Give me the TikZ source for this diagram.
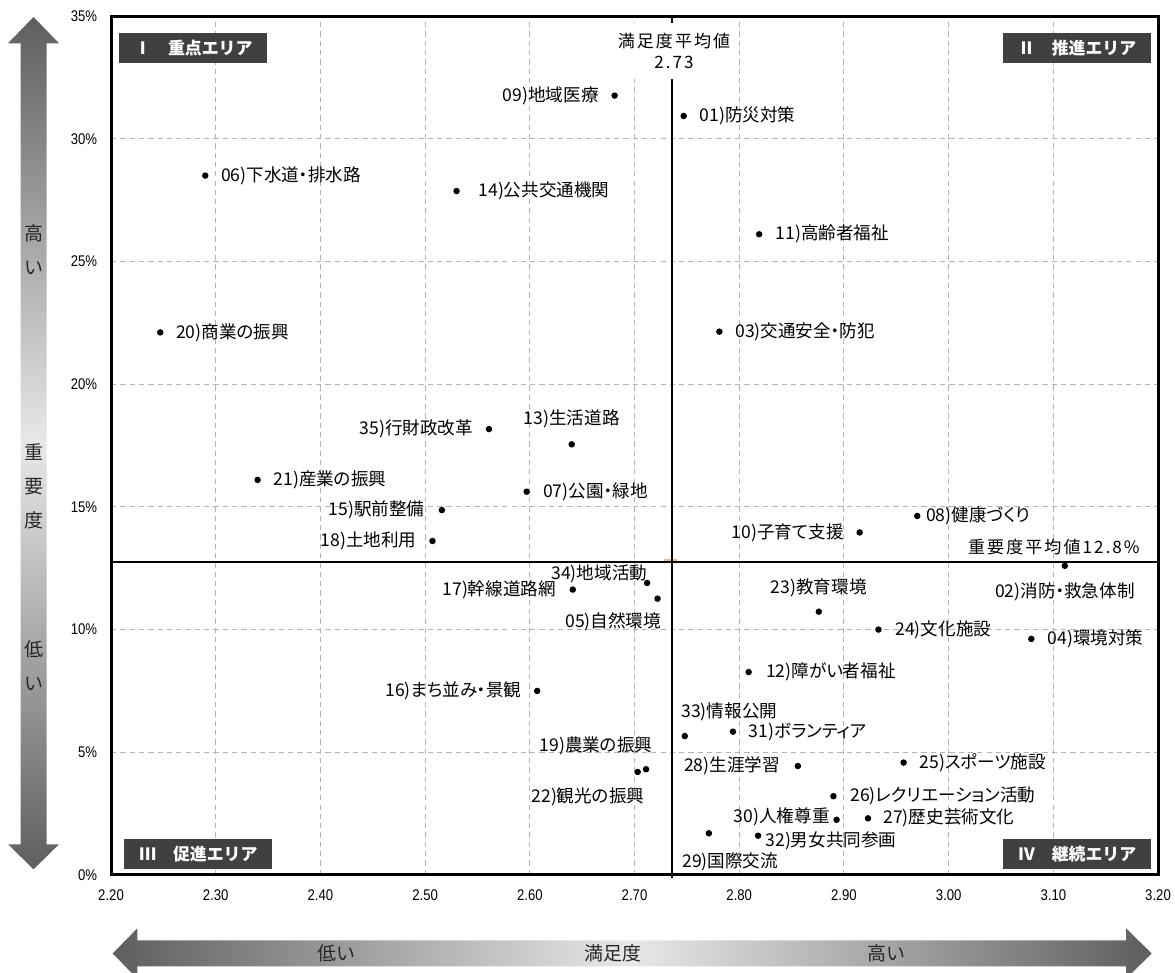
\documentclass[tikz,border=0pt]{standalone}
\usepackage{fontspec}
\setmainfont{Noto Sans CJK JP}[RawFeature=+palt]
\newfontfamily\boxfont{Noto Sans CJK JP}
\newfontfamily\spacedfont{Noto Sans CJK JP}[LetterSpace=12]
\newfontfamily\tickfont{Liberation Sans}[FakeStretch=0.85]
\usetikzlibrary{positioning}
\definecolor{boxgray}{HTML}{404040}
\definecolor{griddash}{HTML}{B4B4B4}
\definecolor{arrowdark}{HTML}{5E5E5E}
\definecolor{arrowlight}{HTML}{E8E8E8}
\definecolor{markorange}{HTML}{F4B183}
\tikzstyle{pointdot} = [circle, fill=black, inner sep=0pt, minimum size=0.13cm]
\tikzstyle{itemlabel} = [inner sep=0pt, font=\fontsize{10}{11}\selectfont]
\tikzstyle{ticklabel} = [inner sep=0pt, font=\tickfont\fontsize{8.8}{9}\selectfont]
\tikzstyle{avglabel} = [inner sep=0pt, font=\spacedfont\fontsize{9.7}{12.3}\selectfont]
\tikzstyle{areabox} = [rectangle, fill=boxgray, text=white, minimum width=2.96cm, minimum height=0.6cm, inner sep=0pt, font=\boxfont\bfseries\fontsize{9.6}{10}\selectfont]
\tikzstyle{axislabel} = [inner sep=0pt, text=black!85, font=\boxfont\fontsize{10.8}{19.3}\selectfont]
\tikzstyle{gridline} = [griddash, line width=0.5pt, dash pattern=on 3pt off 2.3pt]
\tikzstyle{meanline} = [black, line width=1.3pt]

\begin{document}
\begin{tikzpicture}[x=20.94cm, y=0.4908cm]

\useasboundingbox (2.09398,-3.9935) rectangle (3.21624,35.656);

% Axis arrows
\shade[top color=arrowdark, bottom color=arrowdark, middle color=arrowlight]
  (2.12598,34.963) -- (2.15033,33.892) -- (2.13840,33.892) -- (2.13840,1.251) -- (2.15033,1.251)
  -- (2.12598,0.232) -- (2.10162,1.251) -- (2.11356,1.251) -- (2.11356,33.892) -- (2.10162,33.892) -- cycle;
\shade[left color=arrowdark, right color=arrowdark, middle color=arrowlight]
  (2.20162,-3.199) -- (2.22512,-2.172) -- (2.22512,-2.669) -- (3.16944,-2.669) -- (3.16944,-2.172)
  -- (3.19398,-3.199) -- (3.16944,-4.226) -- (3.16944,-3.729) -- (2.22512,-3.729) -- (2.22512,-4.226) -- cycle;

\node (highI) [axislabel, align=center] at (2.12598,25.468) {高\\い};
\node (imp) [axislabel, align=center] at (2.12598,15.852) {重\\要\\度};
\node (lowI) [axislabel, align=center] at (2.12598,8.521) {低\\い};
\node (lowS) [axislabel] at (2.41557,-3.199) {低い};
\node (satis) [axislabel] at (2.67975,-3.199) {満足度};
\node (highS) [axislabel] at (2.94088,-3.199) {高い};

% Grid
\draw[gridline] (2.3,0) -- (2.3,35);
\draw[gridline] (2.4,0) -- (2.4,35);
\draw[gridline] (2.5,0) -- (2.5,35);
\draw[gridline] (2.6,0) -- (2.6,35);
\draw[gridline] (2.7,0) -- (2.7,35);
\draw[gridline] (2.8,0) -- (2.8,35);
\draw[gridline] (2.9,0) -- (2.9,35);
\draw[gridline] (3.0,0) -- (3.0,35);
\draw[gridline] (3.1,0) -- (3.1,35);
\draw[gridline] (2.2,5) -- (3.2,5);
\draw[gridline] (2.2,10) -- (3.2,10);
\draw[gridline] (2.2,15) -- (3.2,15);
\draw[gridline] (2.2,20) -- (3.2,20);
\draw[gridline] (2.2,25) -- (3.2,25);
\draw[gridline] (2.2,30) -- (3.2,30);

% Mean lines
\coordinate (vTop) at (2.7355,35);
\coordinate (vBot) at (2.7355,-0.12);
\coordinate (hBeg) at (2.2,12.75);
\coordinate (hEnd) at (3.2,12.75);
\fill[markorange] (2.7285,12.75) rectangle (2.7409,12.89);
\draw[meanline] (vTop) -- (vBot);
\draw[meanline] (hBeg) -- (hEnd);

% Frame
\coordinate (bl) at (2.2,0);
\coordinate (br) at (3.2,0);
\coordinate (tl) at (2.2,35);
\coordinate (tr) at (3.2,35);
\draw[black, line width=0.06cm] (bl) rectangle (tr);

% Tick labels
\node (y0) [ticklabel, left=0.27cm] at (2.2,0) {0\%};
\node (y5) [ticklabel, left=0.27cm] at (2.2,5) {5\%};
\node (y10) [ticklabel, left=0.27cm] at (2.2,10) {10\%};
\node (y15) [ticklabel, left=0.27cm] at (2.2,15) {15\%};
\node (y20) [ticklabel, left=0.27cm] at (2.2,20) {20\%};
\node (y25) [ticklabel, left=0.27cm] at (2.2,25) {25\%};
\node (y30) [ticklabel, left=0.27cm] at (2.2,30) {30\%};
\node (y35) [ticklabel, left=0.27cm] at (2.2,35) {35\%};
\node (x220) [ticklabel, below=0.28cm] at (2.2,0) {2.20};
\node (x230) [ticklabel, below=0.28cm] at (2.3,0) {2.30};
\node (x240) [ticklabel, below=0.28cm] at (2.4,0) {2.40};
\node (x250) [ticklabel, below=0.28cm] at (2.5,0) {2.50};
\node (x260) [ticklabel, below=0.28cm] at (2.6,0) {2.60};
\node (x270) [ticklabel, below=0.28cm] at (2.7,0) {2.70};
\node (x280) [ticklabel, below=0.28cm] at (2.8,0) {2.80};
\node (x290) [ticklabel, below=0.28cm] at (2.9,0) {2.90};
\node (x300) [ticklabel, below=0.28cm] at (3.0,0) {3.00};
\node (x310) [ticklabel, below=0.28cm] at (3.1,0) {3.10};
\node (x320) [ticklabel, below=0.28cm] at (3.2,0) {3.20};

% Mean labels
\node (avgX) [avglabel, fill=white, align=center, inner xsep=0.1cm, inner ysep=0.2cm] at (2.7377,33.58) {満足度平均値\\2.73};
\node (avgY) [avglabel, left=0.36cm of hEnd, yshift=0.31cm] {重要度平均値12.8\%};

% Areas
\node (areaI) [areabox, below right=0.34cm and 0.16cm of tl] {Ⅰ　重点エリア};
\node (areaII) [areabox, below left=0.34cm and 0.13cm of tr] {Ⅱ　推進エリア};
\node (areaIII) [areabox, above right=0.12cm and 0.26cm of bl] {Ⅲ　促進エリア};
\node (areaIV) [areabox, above left=0.11cm and 0.13cm of br] {Ⅳ　継続エリア};

% Items
\node (p01) [pointdot] at (2.747,30.93) {}; \node (l01) [itemlabel, right=0.24cm of p01] {01)防災対策};
\node (p02) [pointdot] at (3.111,12.60) {}; \node (l02) [itemlabel, below=0.25cm of p02] {02)消防・救急体制};
\node (p03) [pointdot] at (2.781,22.14) {}; \node (l03) [itemlabel, right=0.24cm of p03] {03)交通安全・防犯};
\node (p04) [pointdot] at (3.079,9.62) {}; \node (l04) [itemlabel, right=0.25cm of p04] {04)環境対策};
\node (p05) [pointdot] at (2.722,11.26) {}; \node (l05) [itemlabel, left=-0.15cm of p05, yshift=-0.46cm] {05)自然環境};
\node (p06) [pointdot] at (2.290,28.50) {}; \node (l06) [itemlabel, right=0.24cm of p06] {06)下水道・排水路};
\node (p07) [pointdot] at (2.597,15.62) {}; \node (l07) [itemlabel, right=0.25cm of p07] {07)公園・緑地};
\node (p08) [pointdot] at (2.970,14.63) {}; \node (l08) [itemlabel, right=0.1cm of p08] {08)健康づくり};
\node (p09) [pointdot] at (2.681,31.76) {}; \node (l09) [itemlabel, left=0.24cm of p09] {09)地域医療};
\node (p10) [pointdot] at (2.915,13.96) {}; \node (l10) [itemlabel, left=0.24cm of p10] {10)子育て支援};
\node (p11) [pointdot] at (2.819,26.11) {}; \node (l11) [itemlabel, right=0.25cm of p11] {11)高齢者福祉};
\node (p12) [pointdot] at (2.809,8.27) {}; \node (l12) [itemlabel, right=0.27cm of p12] {12)障がい者福祉};
\node (p13) [pointdot] at (2.640,17.55) {}; \node (l13) [itemlabel, above=0.24cm of p13] {13)生活道路};
\node (p14) [pointdot] at (2.530,27.87) {}; \node (l14) [itemlabel, right=0.36cm of p14] {14)公共交通機関};
\node (p15) [pointdot] at (2.516,14.87) {}; \node (l15) [itemlabel, left=0.27cm of p15] {15)駅前整備};
\node (p16) [pointdot] at (2.607,7.50) {}; \node (l16) [itemlabel, left=0.24cm of p16] {16)まち並み・景観};
\node (p17) [pointdot] at (2.641,11.63) {}; \node (l17) [itemlabel, left=0.26cm of p17] {17)幹線道路網};
\node (p18) [pointdot] at (2.507,13.61) {}; \node (l18) [itemlabel, left=0.24cm of p18] {18)土地利用};
\node (p19) [pointdot] at (2.711,4.31) {}; \node (l19) [itemlabel, left=-0.205cm of p19, yshift=0.47cm] {19)農業の振興};
\node (p20) [pointdot] at (2.247,22.11) {}; \node (l20) [itemlabel, right=0.24cm of p20] {20)商業の振興};
\node (p21) [pointdot] at (2.340,16.10) {}; \node (l21) [itemlabel, right=0.24cm of p21] {21)産業の振興};
\node (p22) [pointdot] at (2.703,4.20) {}; \node (l22) [itemlabel, left=-0.21cm of p22, yshift=-0.49cm] {22)観光の振興};
\node (p23) [pointdot] at (2.876,10.73) {}; \node (l23) [itemlabel, above=0.22cm of p23] {23)教育環境};
\node (p24) [pointdot] at (2.933,10.00) {}; \node (l24) [itemlabel, right=0.26cm of p24] {24)文化施設};
\node (p25) [pointdot] at (2.957,4.58) {}; \node (l25) [itemlabel, right=0.24cm of p25] {25)スポーツ施設};
\node (p26) [pointdot] at (2.890,3.21) {}; \node (l26) [itemlabel, right=0.26cm of p26] {26)レクリエーション活動};
\node (p27) [pointdot] at (2.923,2.31) {}; \node (l27) [itemlabel, right=0.23cm of p27] {27)歴史芸術文化};
\node (p28) [pointdot] at (2.856,4.44) {}; \node (l28) [itemlabel, left=0.28cm of p28] {28)生涯学習};
\node (p29) [pointdot] at (2.771,1.70) {}; \node (l29) [itemlabel, right=-0.61cm of p29, yshift=-0.57cm] {29)国際交流};
\node (p30) [pointdot] at (2.893,2.25) {}; \node (l30) [itemlabel, left=0.06cm of p30, yshift=0.06cm] {30)人権尊重};
\node (p31) [pointdot] at (2.794,5.84) {}; \node (l31) [itemlabel, right=0.24cm of p31] {31)ボランティア};
\node (p32) [pointdot] at (2.818,1.60) {}; \node (l32) [itemlabel, right=0.07cm of p32, yshift=-0.1cm] {32)男女共同参画};
\node (p33) [pointdot] at (2.748,5.66) {}; \node (l33) [itemlabel, right=-0.145cm of p33, yshift=0.49cm] {33)情報公開};
\node (p34) [pointdot] at (2.712,11.90) {}; \node (l34) [itemlabel, left=-0.08cm of p34, yshift=0.19cm] {34)地域活動};
\node (p35) [pointdot] at (2.561,18.17) {}; \node (l35) [itemlabel, left=0.24cm of p35] {35)行財政改革};

\end{tikzpicture}
\end{document}
